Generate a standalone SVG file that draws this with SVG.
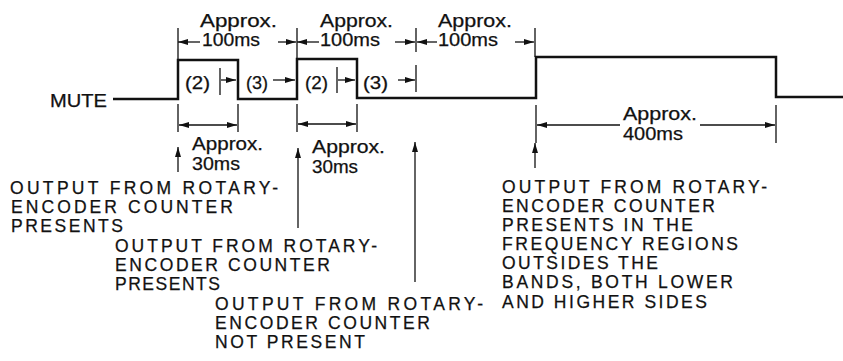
<svg xmlns="http://www.w3.org/2000/svg" width="843" height="361" viewBox="0 0 843 361">
<style>
text{font-family:"Liberation Sans",Arial,sans-serif;font-size:17.5px;fill:#111;stroke:#111;stroke-width:0.25}
.wave{fill:none;stroke:#111;stroke-width:2.5}
.dim{fill:none;stroke:#111;stroke-width:1.3}
.arr{fill:none;stroke:#111;stroke-width:1.3;marker-end:url(#ah)}
.arr2{fill:none;stroke:#111;stroke-width:1.3;marker-start:url(#ah);marker-end:url(#ah)}
</style>
<defs>
<marker id="ah" viewBox="0 0 10 6" refX="10" refY="3" markerWidth="10" markerHeight="6" markerUnits="userSpaceOnUse" orient="auto-start-reverse">
<path d="M0 0L10 3L0 6z" fill="#111"/>
</marker>
</defs>
<rect width="843" height="361" fill="#fff"/>
<g id="waveform">
<text x="50" y="107" textLength="57" lengthAdjust="spacingAndGlyphs">MUTE</text>
<path class="wave" d="M113 99H178V60H238V99H297V59H357V98H536V57H776V97H843"/>
</g>
<g id="connectors">
<path class="dim" d="M178 28V59M297 28V59M416 28V52M416 65V92M535 28V57"/>
<path class="arr" d="M200 42H178"/>
<path class="arr" d="M278 42H296"/>
<path class="arr" d="M319 42H297"/>
<path class="arr" d="M395 42H415"/>
<path class="arr" d="M437 42H417"/>
<path class="arr" d="M515 42H534"/>
<path class="dim" d="M220 68V95M337 67V93"/>
<path class="arr" d="M221 80H236"/>
<path class="arr" d="M273 80H295"/>
<path class="arr" d="M338 80H355"/>
<path class="arr" d="M398 80H415"/>
<path class="dim" d="M178 104V132M238 104V132M297 104V132M357 104V132"/>
<path class="arr2" d="M179 125H237"/>
<path class="arr2" d="M298 124H356"/>
<path class="dim" d="M536 105V143M776 105V143"/>
<path class="arr" d="M620 125H537"/>
<path class="arr" d="M700 125H775"/>
<path class="arr" d="M178 172V147"/>
<path class="arr" d="M298 228V148"/>
<path class="arr" d="M415 282V142"/>
<path class="arr" d="M535 168V143"/>
</g>
<g id="labels">
<text x="200" y="27" textLength="77" lengthAdjust="spacingAndGlyphs">Approx.</text>
<text x="202" y="46" textLength="58" lengthAdjust="spacingAndGlyphs">100ms</text>
<text x="320" y="27" textLength="73" lengthAdjust="spacingAndGlyphs">Approx.</text>
<text x="320" y="46" textLength="60" lengthAdjust="spacingAndGlyphs">100ms</text>
<text x="438" y="27" textLength="74" lengthAdjust="spacingAndGlyphs">Approx.</text>
<text x="438" y="46" textLength="60" lengthAdjust="spacingAndGlyphs">100ms</text>
<text x="185" y="89" textLength="25" lengthAdjust="spacingAndGlyphs">(2)</text>
<text x="246" y="89" textLength="22" lengthAdjust="spacingAndGlyphs">(3)</text>
<text x="305" y="89" textLength="23" lengthAdjust="spacingAndGlyphs">(2)</text>
<text x="363" y="89" textLength="25" lengthAdjust="spacingAndGlyphs">(3)</text>
<text x="192" y="150" textLength="71" lengthAdjust="spacingAndGlyphs">Approx.</text>
<text x="192" y="170" textLength="48" lengthAdjust="spacingAndGlyphs">30ms</text>
<text x="312" y="153" textLength="73" lengthAdjust="spacingAndGlyphs">Approx.</text>
<text x="312" y="173" textLength="46" lengthAdjust="spacingAndGlyphs">30ms</text>
<text x="623" y="120" textLength="74" lengthAdjust="spacingAndGlyphs">Approx.</text>
<text x="623" y="140" textLength="60" lengthAdjust="spacingAndGlyphs">400ms</text>
</g>
<g id="note1">
<text x="10" y="194" textLength="268">OUTPUT FROM ROTARY-</text>
<text x="11" y="213" textLength="222">ENCODER COUNTER</text>
<text x="11" y="232" textLength="112">PRESENTS</text>
</g>
<g id="note2">
<text x="115" y="252" textLength="262">OUTPUT FROM ROTARY-</text>
<text x="115" y="271" textLength="215">ENCODER COUNTER</text>
<text x="115" y="290" textLength="105">PRESENTS</text>
</g>
<g id="note3">
<text x="215" y="310" textLength="268">OUTPUT FROM ROTARY-</text>
<text x="215" y="329" textLength="215">ENCODER COUNTER</text>
<text x="215" y="348" textLength="150">NOT PRESENT</text>
</g>
<g id="note4">
<text x="502" y="193" textLength="265">OUTPUT FROM ROTARY-</text>
<text x="502" y="212" textLength="213">ENCODER COUNTER</text>
<text x="502" y="231" textLength="191">PRESENTS IN THE</text>
<text x="502" y="250" textLength="236">FREQUENCY REGIONS</text>
<text x="502" y="269" textLength="156">OUTSIDES THE</text>
<text x="502" y="288" textLength="231">BANDS, BOTH LOWER</text>
<text x="502" y="308" textLength="205">AND HIGHER SIDES</text>
</g>
</svg>
